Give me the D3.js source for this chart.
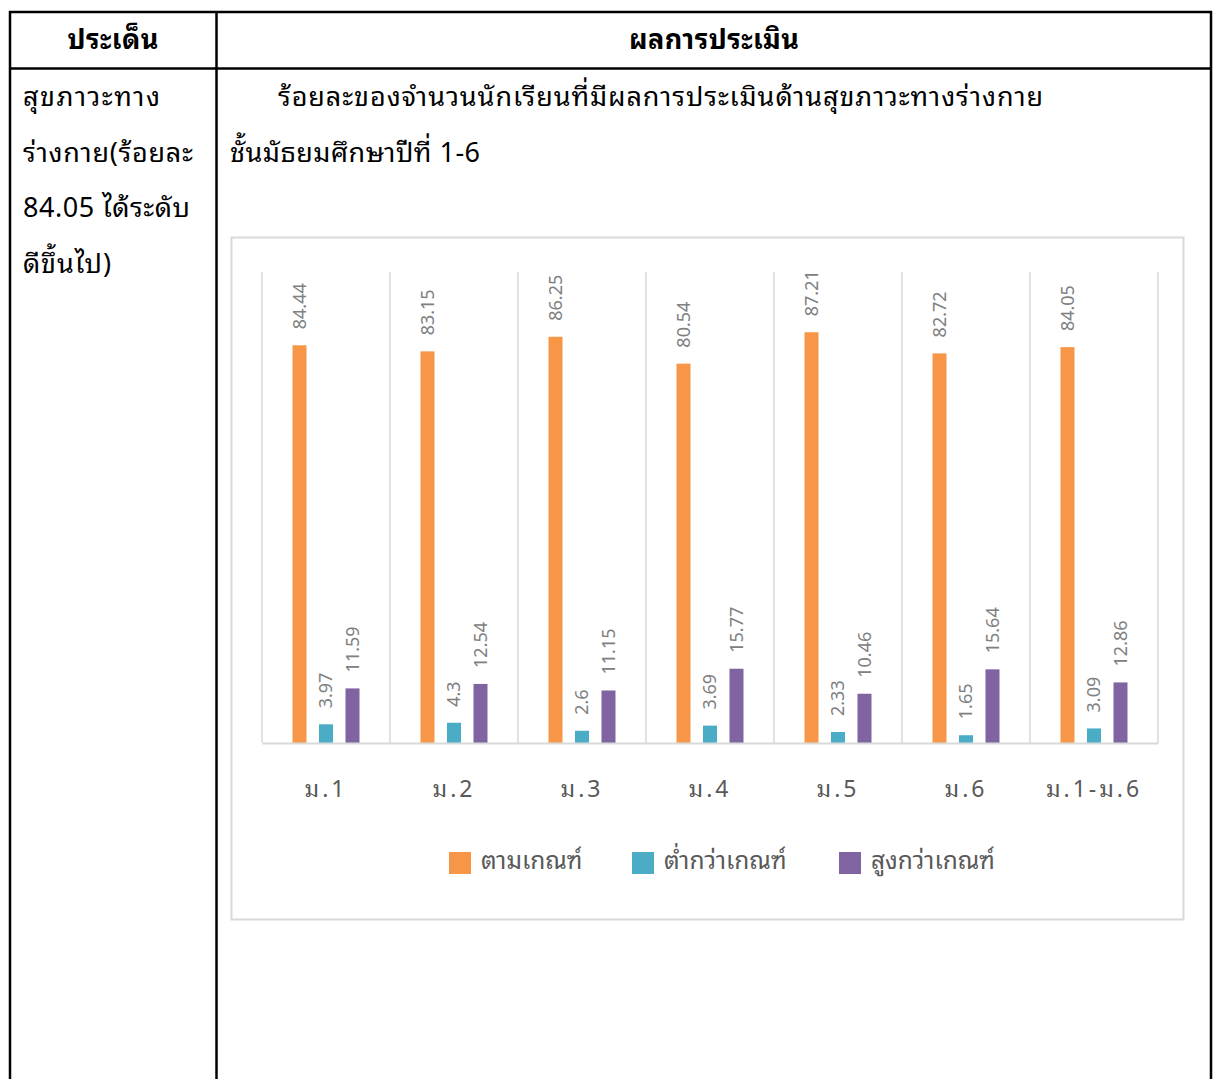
<!DOCTYPE html>
<html>
<head>
<meta charset="utf-8">
<script src="https://cdn.jsdelivr.net/npm/d3@7"></script>
<style>
  body { margin: 0; background: #fff; }
  svg text { font-family: "Noto Sans Thai Looped", "Noto Sans Thai", "Noto Sans", "Open Sans", sans-serif; }
</style>
</head>
<body>
<div class="root"></div>
<script>
var categories = ['ม.1', 'ม.2', 'ม.3', 'ม.4', 'ม.5', 'ม.6', 'ม.1-ม.6'];
var seriesNames = ['ตามเกณฑ์', 'ต่ำกว่าเกณฑ์', 'สูงกว่าเกณฑ์'];
var passValues = [84.44, 83.15, 86.25, 80.54, 87.21, 82.72, 84.05];
var belowValues = [3.97, 4.3, 2.6, 3.69, 2.33, 1.65, 3.09];
var aboveValues = [11.59, 12.54, 11.15, 15.77, 10.46, 15.64, 12.86];
var seriesColors = ['#F79646', '#4BACC6', '#8064A2'];

var headerLeft = 'ประเด็น';
var headerRight = 'ผลการประเมิน';
var leftLines = ['สุขภาวะทาง', 'ร่างกาย(ร้อยละ', '84.05 ได้ระดับ', 'ดีขึ้นไป)'];
var titleLines = ['ร้อยละของจำนวนนักเรียนที่มีผลการประเมินด้านสุขภาวะทางร่างกาย', 'ชั้นมัธยมศึกษาปีที่ 1-6'];

// widths of the text lines as set in the source document
var leftWidths = [137, 170, 167, 88];
var titleWidths = [765, 250];

function draw() {
  var w = 1214, h = 1079;
  var svg = d3.select('.root').append('svg')
    .attr('width', w)
    .attr('height', h);

  // table frame
  var tbl = svg.append('g')
    .attr('stroke', '#000')
    .attr('stroke-width', 2.5)
    .attr('fill', 'none');
  tbl.append('line').attr('x1', 9).attr('x2', 1212).attr('y1', 12).attr('y2', 12);
  tbl.append('line').attr('x1', 9).attr('x2', 1212).attr('y1', 68.5).attr('y2', 68.5);
  tbl.append('line').attr('x1', 10).attr('x2', 10).attr('y1', 11).attr('y2', h);
  tbl.append('line').attr('x1', 216.5).attr('x2', 216.5).attr('y1', 11).attr('y2', h);
  tbl.append('line').attr('x1', 1211).attr('x2', 1211).attr('y1', 11).attr('y2', h);

  svg.append('text').attr('x', 113).attr('y', 40).attr('dy', '0.35em')
    .attr('text-anchor', 'middle').attr('font-size', 27).attr('font-weight', 'bold')
    .attr('textLength', 91)
    .attr('fill', '#000').text(headerLeft);
  svg.append('text').attr('x', 714).attr('y', 40).attr('dy', '0.35em')
    .attr('text-anchor', 'middle').attr('font-size', 27).attr('font-weight', 'bold')
    .attr('textLength', 170)
    .attr('fill', '#000').text(headerRight);

  svg.selectAll('text.left')
    .data(leftLines)
    .enter().append('text')
      .attr('class', 'left')
      .attr('x', 23)
      .attr('y', function(d, i) { return 97 + i * 55.5; })
      .attr('dy', '0.35em')
      .attr('font-size', 27)
      .attr('textLength', function(d, i) { return leftWidths[i]; })
      .attr('fill', '#000')
      .text(function(d) { return d; });

  svg.selectAll('text.title')
    .data(titleLines)
    .enter().append('text')
      .attr('class', 'title')
      .attr('x', function(d, i) { return i === 0 ? 278 : 230; })
      .attr('y', function(d, i) { return 97 + i * 55.5; })
      .attr('dy', '0.35em')
      .attr('font-size', 27)
      .attr('textLength', function(d, i) { return titleWidths[i]; })
      .attr('fill', '#000')
      .text(function(d) { return d; });

  // chart box
  svg.append('rect')
    .attr('x', 231.5).attr('y', 237.5)
    .attr('width', 952).attr('height', 682)
    .attr('fill', '#fff')
    .attr('stroke', '#d9d9d9')
    .attr('stroke-width', 2);

  var left = 262, right = 1158, top = 272, bottom = 743;

  var x = d3.scaleBand()
    .domain(categories)
    .range([left, right])
    .padding(0);

  var sub = d3.scaleBand()
    .domain(seriesNames)
    .range([0, x.bandwidth()])
    .paddingInner(0.4717)
    .paddingOuter(1.151);

  var y = d3.scaleLinear()
    .domain([0, 100])
    .range([bottom, top]);

  // vertical gridlines between categories
  var bounds = categories.map(function(c) { return x(c); }).concat([right]);
  svg.append('g')
    .selectAll('line')
    .data(bounds)
    .enter().append('line')
      .attr('x1', function(d) { return d; })
      .attr('x2', function(d) { return d; })
      .attr('y1', top)
      .attr('y2', bottom)
      .attr('stroke', '#d9d9d9')
      .attr('stroke-width', 1.5);

  var rows = [];
  var allSeries = [passValues, belowValues, aboveValues];
  categories.forEach(function(c, i) {
    seriesNames.forEach(function(s, j) {
      rows.push({cat: c, series: s, value: allSeries[j][i], color: seriesColors[j]});
    });
  });

  svg.append('g')
    .selectAll('rect')
    .data(rows)
    .enter().append('rect')
      .attr('x', function(d) { return x(d.cat) + sub(d.series); })
      .attr('y', function(d) { return y(d.value); })
      .attr('width', sub.bandwidth())
      .attr('height', function(d) { return y(0) - y(d.value); })
      .attr('fill', function(d) { return d.color; });

  svg.append('g')
    .selectAll('text')
    .data(rows)
    .enter().append('text')
      .attr('transform', function(d) {
        var cx = x(d.cat) + sub(d.series) + sub.bandwidth() / 2;
        return 'translate(' + cx + ',' + (y(d.value) - 16) + ') rotate(-90)';
      })
      .attr('dy', '0.35em')
      .attr('font-size', 18)
      .attr('fill', '#808080')
      .text(function(d) { return d.value; });

  // x axis
  var xAxis = svg.append('g')
    .attr('transform', 'translate(0,' + bottom + ')')
    .call(d3.axisBottom(x).tickSize(0).tickPadding(38));
  xAxis.select('.domain').attr('stroke', '#d9d9d9').attr('stroke-width', 2);
  xAxis.selectAll('text')
    .attr('font-size', 23)
    .attr('fill', '#595959')
    .attr('letter-spacing', 3)
    .style('font-family', '"Noto Sans Thai Looped", "Noto Sans Thai", "Noto Sans", sans-serif');

  // legend
  var legendX = [449, 632, 839];
  var legend = svg.append('g')
    .selectAll('g')
    .data(seriesNames)
    .enter().append('g')
      .attr('transform', function(d, i) { return 'translate(' + legendX[i] + ',852)'; });
  legend.append('rect')
    .attr('width', 22).attr('height', 22)
    .attr('fill', function(d, i) { return seriesColors[i]; });
  legend.append('text')
    .attr('x', 32).attr('y', 8)
    .attr('dy', '0.35em')
    .attr('font-size', 24.5)
    .attr('fill', '#595959')
    .text(function(d) { return d; });
}

window.onload = function() {
  draw();
}
</script>
</body>
</html>
